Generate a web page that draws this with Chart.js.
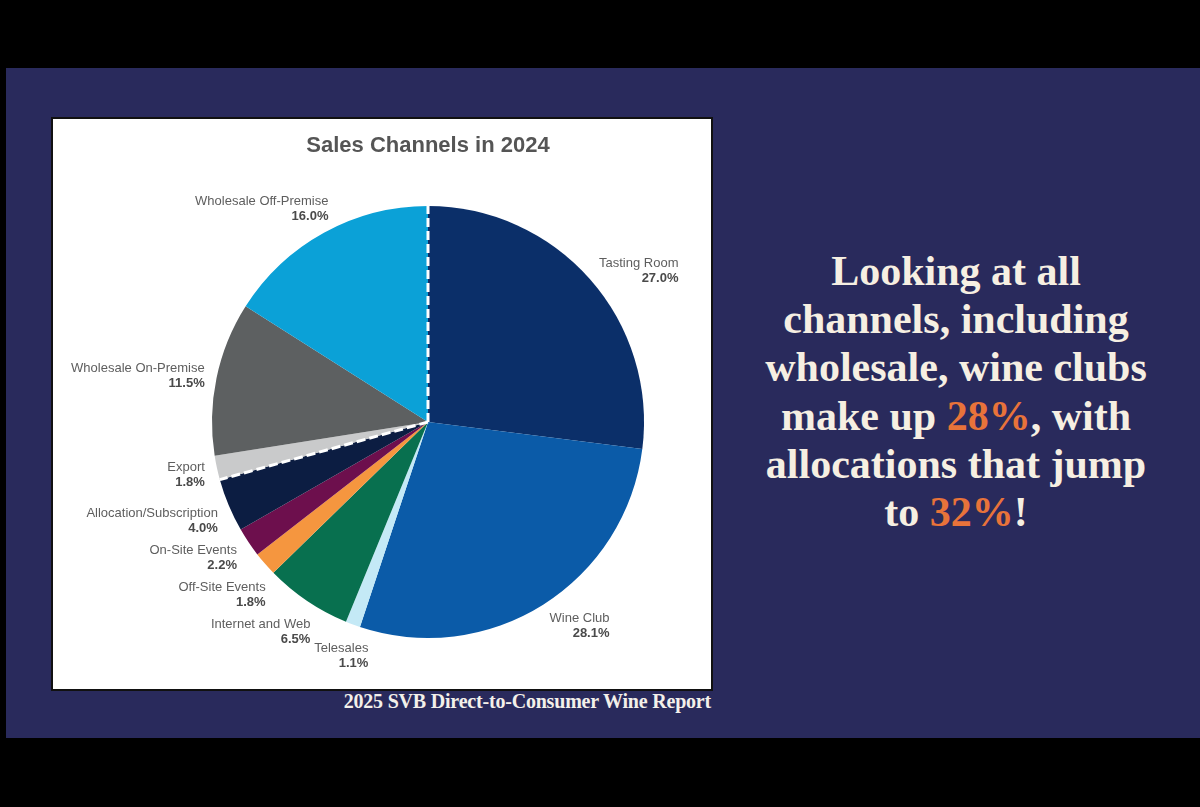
<!DOCTYPE html>
<html>
<head>
<meta charset="utf-8">
<script src="https://cdn.jsdelivr.net/npm/chart.js@4.4.1/dist/chart.umd.min.js"></script>
<style>
  html, body { margin: 0; padding: 0; background: #000; }
  body { width: 1200px; height: 807px; position: relative; overflow: hidden; }
  #slide { position: absolute; left: 6px; top: 68px; width: 1194px; height: 670px; background: #292a5c; }
  #box { position: absolute; left: 51px; top: 117px; width: 658px; height: 570px; background: #fff; border: 2px solid #111; }
  #box canvas { display: block; }
  #note {
    position: absolute; left: 726px; top: 247px; width: 460px;
    text-align: center; color: #f6efe2;
    font-family: "Liberation Serif", "DejaVu Serif", serif; font-weight: bold;
    font-size: 42px; line-height: 48.2px;
  }
  #note .hl { color: #e8733a; }
  #source {
    position: absolute; right: 489px; top: 690px;
    color: #f3f0ea; font-family: "Liberation Serif", "DejaVu Serif", serif;
    font-weight: bold; font-size: 20px; letter-spacing: -0.2px;
  }
</style>
</head>
<body>
<div id="slide"></div>
<div id="box"><canvas id="channels" width="658" height="570"></canvas></div>
<div id="note">Looking at all<br>channels, including<br>wholesale, wine clubs<br>make up <span class="hl">28%</span>, with<br>allocations that jump<br>to <span class="hl">32%</span>!</div>
<div id="source">2025 SVB Direct-to-Consumer Wine Report</div>

<script>
// Data
const channels = ['Tasting Room', 'Wine Club', 'Telesales', 'Internet and Web', 'Off-Site Events',
    'On-Site Events', 'Allocation/Subscription', 'Export', 'Wholesale On-Premise', 'Wholesale Off-Premise'];
const shares = [27.0, 28.1, 1.1, 6.5, 1.8, 2.2, 4.0, 1.8, 11.5, 16.0];
const sliceColors = ['#0b2f69', '#0b5ba8', '#c4e9f6', '#08704f', '#f5963f',
    '#6d0f4d', '#0c1d42', '#c9cacb', '#5d6061', '#0ba1d7'];
// slices whose starting edge gets the white dashed divider
const dividers = ['Tasting Room', 'Export'];

function clamp(v, lo, hi) { return Math.max(lo, Math.min(hi, v)); }

// outside labels: name on top, bold percent below, pushed round the pie if they collide
const outsideLabels = {
    id: 'outsideLabels',
    afterDatasetsDraw(chart) {
        const ctx = chart.ctx;
        const arcs = chart.getDatasetMeta(0).data;
        const nameFont = '13px "Liberation Sans", Arial, sans-serif';
        const valFont = 'bold 13px "Liberation Sans", Arial, sans-serif';
        const lineH = 15;
        const pad = 10;
        const gx = 3, gy = 7;
        const placed = [];

        arcs.forEach((arc, i) => {
            const {x: cx, y: cy, outerRadius: r, startAngle, endAngle} = arc.getProps(['x', 'y', 'outerRadius', 'startAngle', 'endAngle'], true);
            const name = chart.data.labels[i];
            const val = shares[i].toFixed(1) + '%';
            ctx.font = nameFont;
            let w = ctx.measureText(name).width;
            ctx.font = valFont;
            w = Math.max(w, ctx.measureText(val).width);
            const h = lineH * 2;

            let a = (startAngle + endAngle) / 2;
            let box;
            for (let k = 0; k < 200; k++) {
                const dx = Math.cos(a), dy = Math.sin(a);
                let bx, by;
                if (dx < 0 && dy > 0) {
                    // lower left: keep the whole box clear of the rim
                    const d = r + pad + Math.abs(dx) * w / 2 + Math.abs(dy) * h / 2;
                    bx = cx + dx * d;
                    by = cy + dy * d;
                } else {
                    const ax = cx + dx * (r + pad + 2), ay = cy + dy * (r + pad + 2);
                    const fx = Math.sign(dx) * clamp((Math.abs(dx) - 0.2) * 3, 0, 1);
                    const fy = Math.sign(dy) * clamp((Math.abs(dy) - 0.7) * 5, 0, 1);
                    bx = ax + fx * w / 2;
                    by = ay + fy * h / 2;
                }
                box = {l: bx - w / 2, r: bx + w / 2, t: by - h / 2, b: by + h / 2};
                const hit = placed.some(p => box.l < p.r + gx && box.r > p.l - gx && box.t < p.b + gy && box.b > p.t - gy);
                if (!hit) break;
                a += Math.PI / 720;
            }
            placed.push(box);

            ctx.save();
            ctx.textAlign = 'right';
            ctx.textBaseline = 'middle';
            ctx.fillStyle = '#5e5e5e';
            ctx.font = nameFont;
            ctx.fillText(name, box.r, box.t + lineH / 2);
            ctx.fillStyle = '#4a4a4a';
            ctx.font = valFont;
            ctx.fillText(val, box.r, box.t + lineH * 1.5);
            ctx.restore();
        });
    }
};

// dashed white dividers
const dashedDividers = {
    id: 'dashedDividers',
    afterDatasetsDraw(chart) {
        const ctx = chart.ctx;
        const arcs = chart.getDatasetMeta(0).data;
        ctx.save();
        ctx.strokeStyle = '#ffffff';
        ctx.lineWidth = 3;
        ctx.setLineDash([9, 4]);
        chart.data.labels.forEach((lbl, i) => {
            if (!dividers.includes(lbl)) return;
            const {x, y, outerRadius, startAngle} = arcs[i].getProps(['x', 'y', 'outerRadius', 'startAngle'], true);
            ctx.beginPath();
            ctx.moveTo(x, y);
            ctx.lineTo(x + Math.cos(startAngle) * outerRadius, y + Math.sin(startAngle) * outerRadius);
            ctx.stroke();
        });
        ctx.restore();
    }
};

const channelsChart = new Chart(
    document.getElementById('channels'),
    {
        type: 'pie',
        data: {
            labels: channels,
            datasets: [{
                data: shares,
                backgroundColor: sliceColors,
                borderWidth: 0,
                hoverOffset: 0,
                offset: 0
            }]
        },
        options: {
            responsive: false,
            animation: false,
            events: [],
            layout: {padding: {left: 159, right: 67, top: 0, bottom: 51}},
            plugins: {
                legend: {display: false},
                tooltip: {enabled: false},
                title: {
                    display: true,
                    text: 'Sales Channels in 2024',
                    color: '#555555',
                    font: {family: '"Liberation Sans", Arial, sans-serif', size: 22, weight: 'bold', lineHeight: 1.2},
                    padding: {top: 14, bottom: 46.6}
                }
            }
        },
        plugins: [dashedDividers, outsideLabels]
    }
);
</script>
</body>
</html>
